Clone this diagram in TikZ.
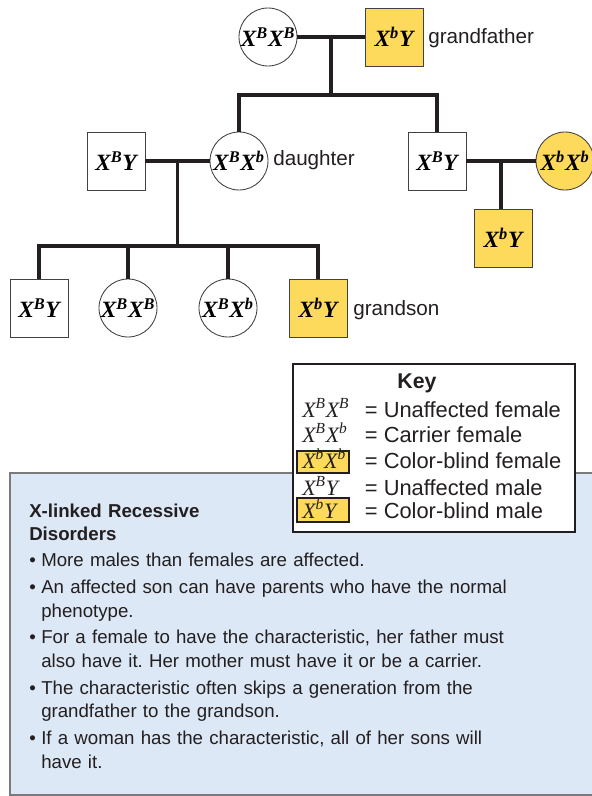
\documentclass[tikz,border=0pt]{standalone}
\usepackage{fontspec}
\setmainfont{Liberation Sans}
\newfontfamily\genofont{Liberation Serif}
\usetikzlibrary{calc}
\frenchspacing
\definecolor{Ink}{HTML}{231F20}
\definecolor{Gold}{HTML}{FDDA5C}
\definecolor{Sky}{HTML}{DCE8F5}
\definecolor{Frame}{HTML}{7A7A7A}
\newcommand{\fem}[2]{X\textsuperscript{#1}X\textsuperscript{#2}}
\newcommand{\mal}[1]{X\textsuperscript{#1}Y}
\newcommand{\keysym}[1]{\makebox[47pt][l]{\genofont\itshape\fontsize{16.5}{18}\selectfont #1}}
\newcommand{\bul}{\makebox[9pt][l]{\textbullet}}
\newcommand{\ind}{\hspace*{9pt}}
\tikzset{
  person/.style={draw=Ink!85, line width=0.65pt, fill=white, inner sep=0pt, minimum size=43.5pt,
    font=\genofont\bfseries\itshape\fontsize{17.5}{18}\selectfont},
  female/.style={person, circle},
  male/.style={person, rectangle},
  affected/.style={fill=Gold},
  kin/.style={draw=Ink, line width=2.3pt},
  tag/.style={anchor=base west, inner sep=0pt, text=Ink, font=\fontsize{15.5}{18}\selectfont},
  keyrow/.style={anchor=base west, inner sep=0pt, text=Ink, font=\fontsize{16.4}{18}\selectfont},
  notes/.style={anchor=base west, inner sep=0pt, text=Ink, text width=420pt, align=left,
    font=\fontsize{14}{17.6}\selectfont}
}

\begin{document}
\begin{tikzpicture}[x=0.75pt, y=-0.75pt]
  \useasboundingbox (0,0) rectangle (592,796);

  % generation I
  \node[female] (gm) at (268,37) {\fem{B}{B}};
  \node[male, affected] (gf) at (394,37) {\mal{b}};
  \node[tag] (gftag) at (428,43) {grandfather};

  % generation II
  \node[male] (h1) at (116,161) {\mal{B}};
  \node[female] (dau) at (239,161) {\fem{B}{b}};
  \node[tag] (dautag) at (273,165) {daughter};
  \node[male] (son) at (437,161) {\mal{B}};
  \node[female, affected] (wife) at (565,161) {\fem{b}{b}};

  % generation III
  \node[male] (c1) at (39,308) {\mal{B}};
  \node[female] (c2) at (128,308) {\fem{B}{B}};
  \node[female] (c3) at (228,308) {\fem{B}{b}};
  \node[male, affected] (c4) at (318,308) {\mal{b}};
  \node[tag] (c4tag) at (353,315) {grandson};
  \node[male, affected] (gs) at (503,238) {\mal{b}};

  % lines of descent
  \draw[kin] (gm) -- (gf);
  \coordinate (g1) at ($(gm.east)!0.5!(gf.west)$);
  \draw[kin] (g1) -- ++(0,58) coordinate (g1s);
  \draw[kin] (dau.north) |- (g1s) -| (son.north);

  \draw[kin] (h1) -- (dau);
  \coordinate (d1) at ($(h1.east)!0.5!(dau.west)$);
  \draw[kin] (d1) -- ++(0,85) coordinate (d1s);
  \draw[kin] (c1.north) |- (d1s) -| (c4.north);
  \draw[kin] (c2.north) -- (c2.north |- d1s);
  \draw[kin] (c3.north) -- (c3.north |- d1s);

  \draw[kin] (son) -- (wife);
  \coordinate (s1) at ($(son.east)!0.5!(wife.west)$);
  \draw[kin] (s1) -- (s1 |- gs.north);

  % summary panel
  \draw[fill=Sky, draw=Frame, line width=1pt] (10,473) rectangle (600,795);
  \node[notes] (notes) at (29,517) {%
    \textbf{X-linked Recessive}\\
    \textbf{Disorders}\\[2pt]
    \bul More males than females are affected.\\[2.6pt]
    \bul An affected son can have parents who have the normal\\
    \ind phenotype.\\[2.6pt]
    \bul For a female to have the characteristic, her father must\\
    \ind also have it. Her mother must have it or be a carrier.\\[2.6pt]
    \bul The characteristic often skips a generation from the\\
    \ind grandfather to the grandson.\\[2.6pt]
    \bul If a woman has the characteristic, all of her sons will\\
    \ind have it.};

  % key
  \draw[fill=white, draw=Ink, line width=0.8pt] (293,364) rectangle (575,532);
  \node[anchor=base, inner sep=0pt, text=Ink, font=\bfseries\fontsize{16}{18}\selectfont] (keytitle) at (417,388) {Key};
  \draw[fill=Gold, draw=Ink, line width=0.8pt] (297,451) rectangle (349,473);
  \draw[fill=Gold, draw=Ink, line width=0.8pt] (297,498) rectangle (349,522);
  \node[keyrow] (k1) at (302,417) {\keysym{\fem{B}{B}}= Unaffected female};
  \node[keyrow] (k2) at (302,442) {\keysym{\fem{B}{b}}= Carrier female};
  \node[keyrow] (k3) at (302,468) {\keysym{\fem{b}{b}}= Color-blind female};
  \node[keyrow] (k4) at (302,495) {\keysym{\mal{B}}= Unaffected male};
  \node[keyrow] (k5) at (302,518) {\keysym{\mal{b}}= Color-blind male};
\end{tikzpicture}
\end{document}
